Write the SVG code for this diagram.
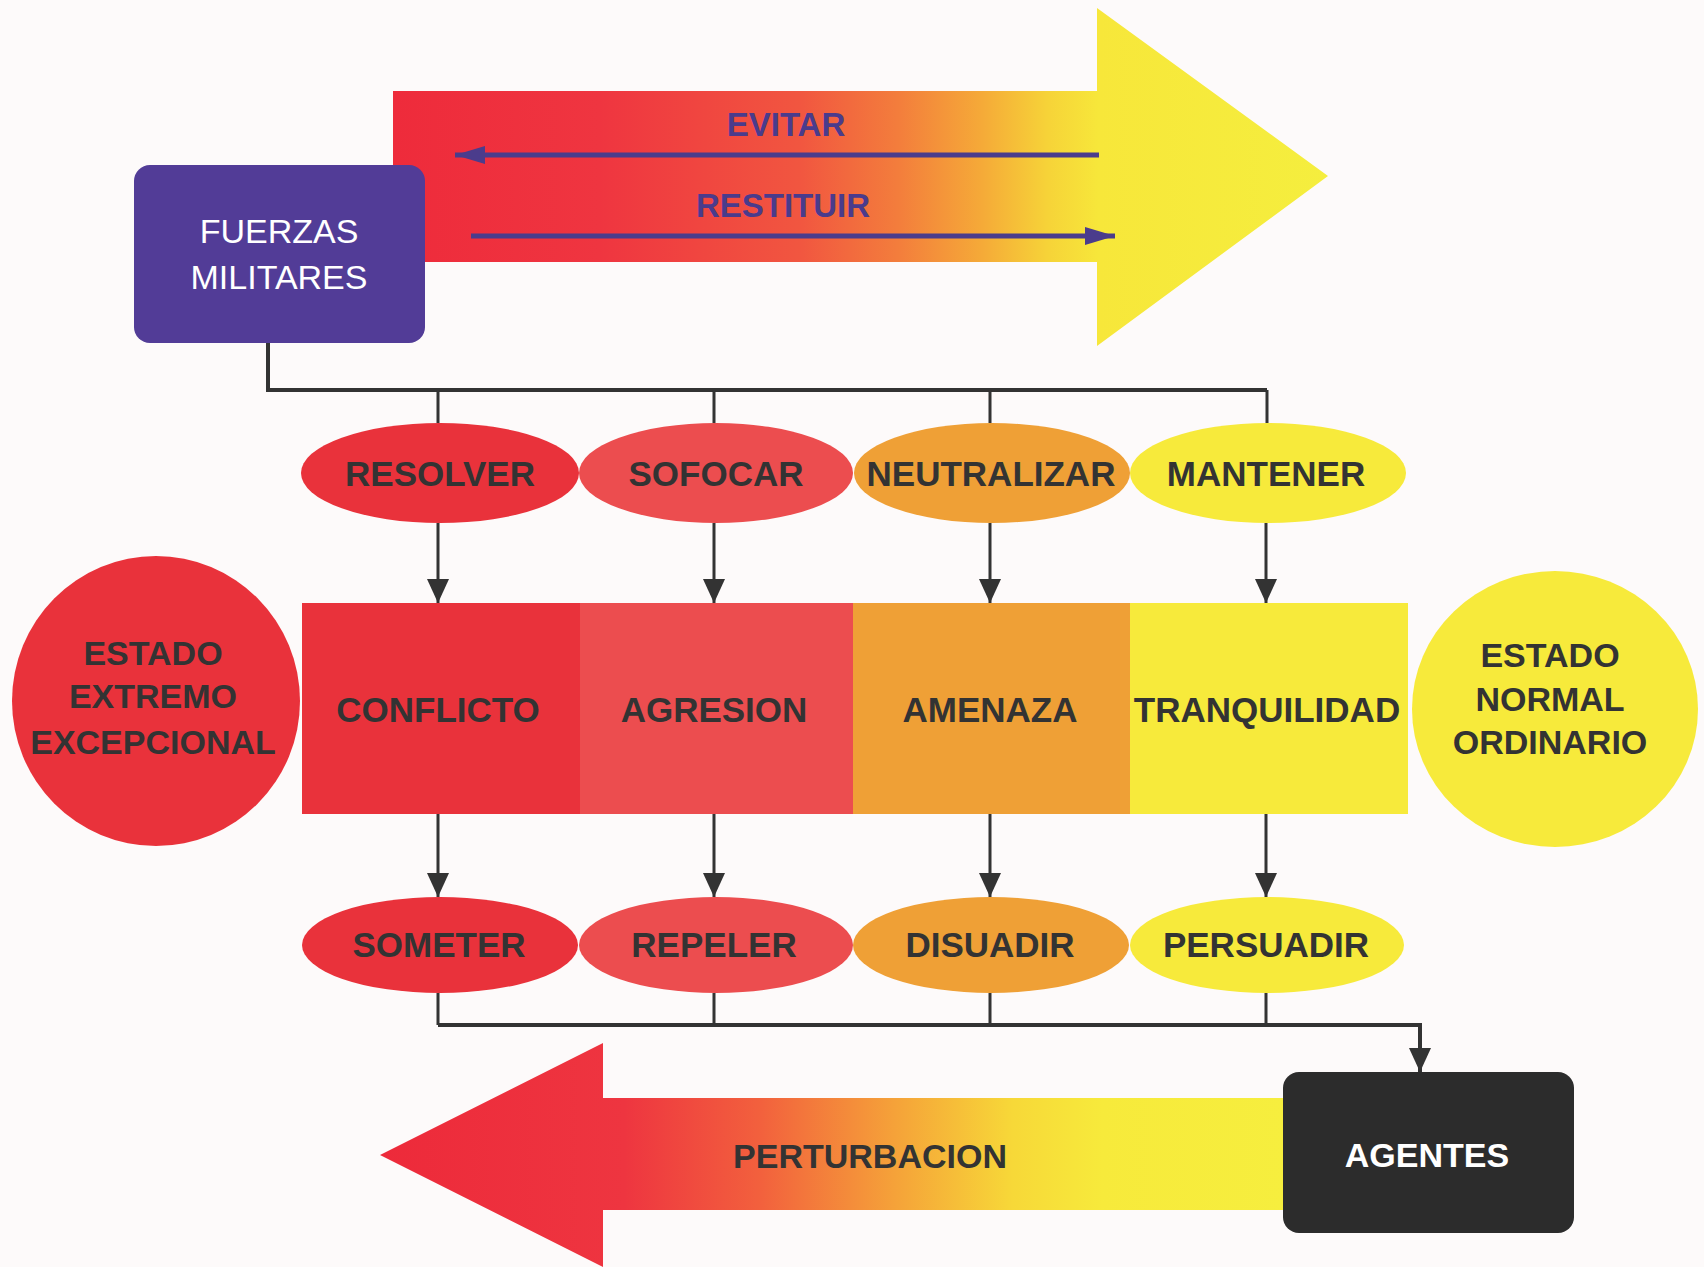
<svg xmlns="http://www.w3.org/2000/svg" width="1704" height="1267" viewBox="0 0 1704 1267">
<defs>
<style>
.lbl{font-family:"Liberation Sans",Arial,sans-serif;font-weight:bold;font-size:35px;fill:#333;text-anchor:middle}
.wht{font-family:"Liberation Sans",Arial,sans-serif;font-size:34px;fill:#fff;text-anchor:middle}
.pur{font-family:"Liberation Sans",Arial,sans-serif;font-weight:bold;font-size:33px;fill:#4a3b8c;text-anchor:middle}
.con{fill:none;stroke:#333;stroke-width:3}
.pl{fill:none;stroke:#4b3c8c;stroke-width:5}
.red{fill:#e9323b}
.red2{fill:#ec4d4f}
.org{fill:#efa036}
.yel{fill:#f7ea3b}
</style>
<linearGradient id="gTop" gradientUnits="userSpaceOnUse" x1="393" y1="0" x2="1328" y2="0">
<stop offset="0" stop-color="#ee2b3b"/>
<stop offset="0.22" stop-color="#ef3540"/>
<stop offset="0.435" stop-color="#f15640"/>
<stop offset="0.54" stop-color="#f37d3c"/>
<stop offset="0.63" stop-color="#f5aa38"/>
<stop offset="0.70" stop-color="#f6d338"/>
<stop offset="0.755" stop-color="#f7e73a"/>
<stop offset="1" stop-color="#f5ee3e"/>
</linearGradient>
<linearGradient id="gBot" gradientUnits="userSpaceOnUse" x1="380" y1="0" x2="1283" y2="0">
<stop offset="0" stop-color="#ed2a3a"/>
<stop offset="0.27" stop-color="#ee3540"/>
<stop offset="0.42" stop-color="#f2603d"/>
<stop offset="0.57" stop-color="#f5a239"/>
<stop offset="0.7" stop-color="#f7d838"/>
<stop offset="0.8" stop-color="#f7ea3b"/>
<stop offset="1" stop-color="#f6ee3e"/>
</linearGradient>
<marker id="ah" markerUnits="userSpaceOnUse" markerWidth="24" markerHeight="24" refX="24" refY="11" orient="auto">
<path d="M0,0 L24,11 L0,22 Z" fill="#333"/>
</marker>
<marker id="ap" markerUnits="userSpaceOnUse" markerWidth="30" markerHeight="18" refX="30" refY="9" orient="auto">
<path d="M0,0 L30,9 L0,18 Z" fill="#4b3c8c"/>
</marker>
</defs>
<rect width="1704" height="1267" fill="#fdfafa"/>

<g id="arrow-top">
<path d="M393,91 H1097 V8 L1328,176 L1097,346 V262 H393 Z" fill="url(#gTop)"/>
<text class="pur" x="786" y="136">EVITAR</text>
<text class="pur" x="783" y="217">RESTITUIR</text>
</g>

<g id="fuerzas-militares">
<rect x="134" y="165" width="291" height="178" rx="16" fill="#523c97"/>
<text class="wht" x="279" y="243">FUERZAS</text>
<text class="wht" x="279" y="289">MILITARES</text>
</g>

<g id="resolver"><ellipse cx="440" cy="473" rx="139" ry="50" class="red"/><text class="lbl" x="440" y="486">RESOLVER</text></g>
<g id="sofocar"><ellipse cx="716" cy="473" rx="137" ry="50" class="red2"/><text class="lbl" x="716" y="486">SOFOCAR</text></g>
<g id="neutralizar"><ellipse cx="992" cy="473" rx="138" ry="50" class="org"/><text class="lbl" x="991" y="486">NEUTRALIZAR</text></g>
<g id="mantener"><ellipse cx="1268" cy="473" rx="138" ry="50" class="yel"/><text class="lbl" x="1266" y="486">MANTENER</text></g>

<g id="conflicto"><rect x="302" y="603" width="278" height="211" class="red"/><text class="lbl" x="438" y="722">CONFLICTO</text></g>
<g id="agresion"><rect x="580" y="603" width="273" height="211" class="red2"/><text class="lbl" x="714" y="722">AGRESION</text></g>
<g id="amenaza"><rect x="853" y="603" width="277" height="211" class="org"/><text class="lbl" x="990" y="722">AMENAZA</text></g>
<g id="tranquilidad"><rect x="1130" y="603" width="278" height="211" class="yel"/><text class="lbl" x="1267" y="722">TRANQUILIDAD</text></g>

<g id="estado-extremo">
<ellipse cx="156" cy="701" rx="144" ry="145" class="red"/>
<text class="lbl" x="153" y="665" style="font-size:34px">ESTADO</text>
<text class="lbl" x="153" y="708" style="font-size:34px">EXTREMO</text>
<text class="lbl" x="153" y="754" style="font-size:34px">EXCEPCIONAL</text>
</g>
<g id="estado-normal">
<ellipse cx="1555" cy="709" rx="143" ry="138" class="yel"/>
<text class="lbl" x="1550" y="667" style="font-size:34px">ESTADO</text>
<text class="lbl" x="1550" y="711" style="font-size:34px">NORMAL</text>
<text class="lbl" x="1550" y="754" style="font-size:34px">ORDINARIO</text>
</g>

<g id="someter"><ellipse cx="440" cy="945" rx="138" ry="48" class="red"/><text class="lbl" x="439" y="957">SOMETER</text></g>
<g id="repeler"><ellipse cx="716" cy="945" rx="137" ry="48" class="red2"/><text class="lbl" x="714" y="957">REPELER</text></g>
<g id="disuadir"><ellipse cx="991" cy="945" rx="138" ry="48" class="org"/><text class="lbl" x="990" y="957">DISUADIR</text></g>
<g id="persuadir"><ellipse cx="1267" cy="945" rx="137" ry="48" class="yel"/><text class="lbl" x="1266" y="957">PERSUADIR</text></g>

<g id="arrow-bottom">
<path d="M1290,1098 H603 V1043 L380,1155 L603,1267 V1210 H1290 Z" fill="url(#gBot)"/>
<text class="lbl" x="870" y="1168" style="font-size:34px">PERTURBACION</text>
</g>

<g id="agentes">
<rect x="1283" y="1072" width="291" height="161" rx="16" fill="#2c2c2c"/>
<text class="wht" x="1427" y="1167" style="font-weight:bold">AGENTES</text>
</g>

<g id="connectors">
<path class="pl" d="M1099,155 H455" marker-end="url(#ap)"/>
<path class="pl" d="M471,236 H1115" marker-end="url(#ap)"/>
<path class="con" d="M268,343 V390 H1267" style="stroke-width:4"/>
<path class="con" d="M438,390 V423 M714,390 V423 M990,390 V423 M1267,390 V423"/>
<path class="con" d="M438,523 V603" marker-end="url(#ah)"/>
<path class="con" d="M714,523 V603" marker-end="url(#ah)"/>
<path class="con" d="M990,523 V603" marker-end="url(#ah)"/>
<path class="con" d="M1266,523 V603" marker-end="url(#ah)"/>
<path class="con" d="M438,814 V897" marker-end="url(#ah)"/>
<path class="con" d="M714,814 V897" marker-end="url(#ah)"/>
<path class="con" d="M990,814 V897" marker-end="url(#ah)"/>
<path class="con" d="M1266,814 V897" marker-end="url(#ah)"/>
<path class="con" d="M438,993 V1025 M714,993 V1025 M990,993 V1025 M1266,993 V1025"/>
<path class="con" d="M438,1025 H1420 V1072" style="stroke-width:4" marker-end="url(#ah)"/>
</g>
</svg>
